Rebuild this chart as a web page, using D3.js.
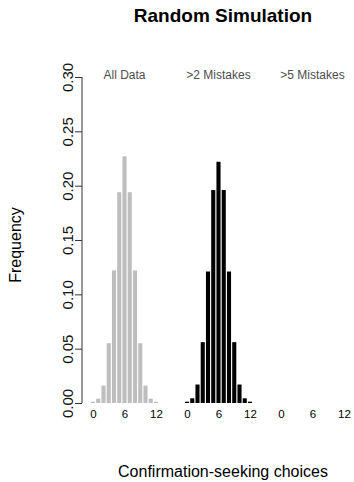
<!DOCTYPE html>
<html>
<head>
<meta charset="utf-8">
<script src="https://cdn.jsdelivr.net/npm/d3@7"></script>
<style>
  body { margin: 0; background: #fff; }
  svg { font-family: "Liberation Sans", Arial, sans-serif; }
</style>
</head>
<body>
<div id="chart"></div>
<script>
// choices 0..12
const choices = d3.range(0, 13);
const panelTitles = ["All Data", ">2 Mistakes", ">5 Mistakes"];
const allData = [0.0012, 0.004, 0.016, 0.055, 0.122, 0.194, 0.227, 0.194, 0.122, 0.055, 0.016, 0.004, 0.0012];
const over2 = [0.0012, 0.0043, 0.017, 0.056, 0.121, 0.196, 0.222, 0.196, 0.121, 0.056, 0.017, 0.0043, 0.0012];
const over5 = [];
const seriesList = [allData, over2, over5];
const barColors = ["#bebebe", "#000000", "#000000"];
const yTicks = [0, 0.05, 0.10, 0.15, 0.20, 0.25, 0.30];
const xTicks = [0, 6, 12];

const width = 354, height = 482;

const svg = d3.select("#chart").append("svg")
    .attr("width", width)
    .attr("height", height);

// y scale shared by all panels
const y = d3.scaleLinear().domain([0, 0.30]).range([403, 77]);

// one x scale per panel, 94px apart
const panelX = i => d3.scaleLinear()
    .domain([0, 12])
    .range([93 + i*94, 156 + i*94]);

const barW = 4.1;

seriesList.forEach((vals, i) => {
  const x = panelX(i);
  const g = svg.append("g").attr("class", "panel");

  g.selectAll("rect")
    .data(vals.map((v, k) => ({k: choices[k], v})))
    .join("rect")
      .attr("x", d => x(d.k) - barW/2)
      .attr("width", barW)
      .attr("y", d => y(d.v))
      .attr("height", d => y(0) - y(d.v))
      .attr("fill", barColors[i]);

  // x tick labels only, no axis line
  const ax = g.append("g")
      .attr("transform", `translate(0,${y(0) + 3})`)
      .call(d3.axisBottom(x).tickValues(xTicks).tickSize(0).tickPadding(4));
  ax.select(".domain").remove();
  ax.selectAll("text")
      .attr("font-size", 11.5)
      .attr("font-family", "Liberation Sans, Arial, sans-serif")
      .attr("fill", "#000");

  g.append("text")
      .attr("x", x(6))
      .attr("y", 79)
      .attr("text-anchor", "middle")
      .attr("font-size", 12)
      .attr("fill", "#4d4d4d")
      .text(panelTitles[i]);
});

// y axis
const yAx = svg.append("g")
    .attr("transform", "translate(82,0)")
    .call(d3.axisLeft(y).tickValues(yTicks).tickFormat(d3.format(".2f")).tickSize(7));
yAx.select(".domain").attr("stroke", "#333").attr("d", `M0,${y(0)}V${y(0.30)}`);
yAx.selectAll(".tick line").attr("stroke", "#333");
yAx.selectAll(".tick text")
    .attr("font-size", 15)
    .attr("font-family", "Liberation Sans, Arial, sans-serif")
    .attr("fill", "#111")
    .attr("x", null).attr("dy", null)
    .attr("text-anchor", "middle")
    .attr("transform", "translate(-9,0) rotate(-90)");

// titles
svg.append("text")
    .attr("x", 223).attr("y", 22)
    .attr("text-anchor", "middle")
    .attr("font-size", 19)
    .attr("font-weight", "bold")
    .text("Random Simulation");

svg.append("text")
    .attr("x", 223).attr("y", 477)
    .attr("text-anchor", "middle")
    .attr("font-size", 16)
    .text("Confirmation-seeking choices");

svg.append("text")
    .attr("transform", `translate(21,245) rotate(-90)`)
    .attr("text-anchor", "middle")
    .attr("font-size", 16)
    .text("Frequency");
</script>
</body>
</html>
